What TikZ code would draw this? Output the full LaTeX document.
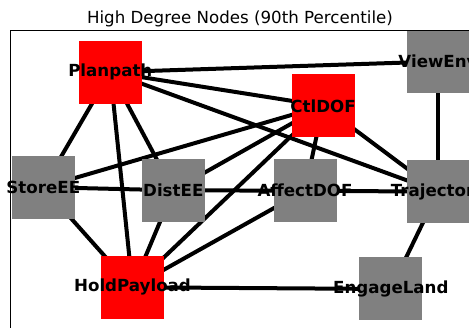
\documentclass[tikz,border=0pt]{standalone}
\usepackage{fontspec}
\setmainfont{DejaVu Sans}
\usetikzlibrary{backgrounds}
\definecolor{nodegray}{HTML}{808080}
\definecolor{nodered}{HTML}{FF0000}
\begin{document}
\begin{tikzpicture}[x=0.75pt,y=-0.75pt,
  sq/.style={rectangle, minimum size=47.25pt, inner sep=0pt, outer sep=0pt},
  hot/.style={sq, fill=nodered},
  cold/.style={sq, fill=nodegray},
  lbl/.style={font=\fontsize{12.5}{15}\selectfont\bfseries, inner sep=0pt, text=black},
  edge/.style={line width=3pt, black},
  frame/.style={line width=0.8pt, black}]
\useasboundingbox (0,0) rectangle (469,328);
\clip (0,0) rectangle (469,328);

% title
\node[font=\fontsize{12.5}{15}\selectfont, anchor=base, inner sep=0pt] (title) at (240,24) {High Degree Nodes (90th Percentile)};

% nodes
\node[hot,  label={[lbl]center:Planpath}]    (planpath)    at (110.3,72.2)  {};
\node[cold, label={[lbl]center:ViewEnv}]     (viewenv)     at (438,61.5)    {};
\node[hot,  label={[lbl]center:CtlDOF}]      (ctldof)      at (323,105.8)   {};
\node[cold, label={[lbl]center:StoreEE}]     (storeee)     at (43.3,187.2)  {};
\node[cold, label={[lbl]center:DistEE}]      (distee)      at (173.3,190.3) {};
\node[cold, label={[lbl]center:AffectDOF}]   (affectdof)   at (305,190.7)   {};
\node[cold, label={[lbl]center:Trajectory}]  (trajectory)  at (438,191.7)   {};
\node[hot,  label={[lbl]center:HoldPayload}] (holdpayload) at (132.5,287.3) {};
\node[cold, label={[lbl]center:EngageLand}]  (engageland)  at (390.8,289)   {};

% connectors, beneath the squares
\begin{scope}[on background layer]
\draw[edge] (planpath.center) -- (viewenv.center);
\draw[edge] (planpath.center) -- (ctldof.center);
\draw[edge] (planpath.center) -- (trajectory.center);
\draw[edge] (planpath.center) -- (storeee.center);
\draw[edge] (planpath.center) -- (holdpayload.center);
\draw[edge] (planpath.center) -- (distee.center);
\draw[edge] (storeee.center) -- (ctldof.center);
\draw[edge] (storeee.center) -- (distee.center);
\draw[edge] (storeee.center) -- (holdpayload.center);
\draw[edge] (distee.center) -- (ctldof.center);
\draw[edge] (distee.center) -- (affectdof.center);
\draw[edge] (distee.center) -- (holdpayload.center);
\draw[edge] (holdpayload.center) -- (ctldof.center);
\draw[edge] (holdpayload.center) -- (affectdof.center);
\draw[edge] (holdpayload.center) -- (engageland.center);
\draw[edge] (ctldof.center) -- (affectdof.center);
\draw[edge] (ctldof.center) -- (trajectory.center);
\draw[edge] (affectdof.center) -- (trajectory.center);
\draw[edge] (viewenv.center) -- (trajectory.center);
\draw[edge] (trajectory.center) -- (engageland.center);
\end{scope}

% axes frame
\coordinate (frameTL) at (10.5,30.5);
\coordinate (frameBR) at (480,340);
\draw[frame] (frameTL) rectangle (frameBR);
\end{tikzpicture}
\end{document}
